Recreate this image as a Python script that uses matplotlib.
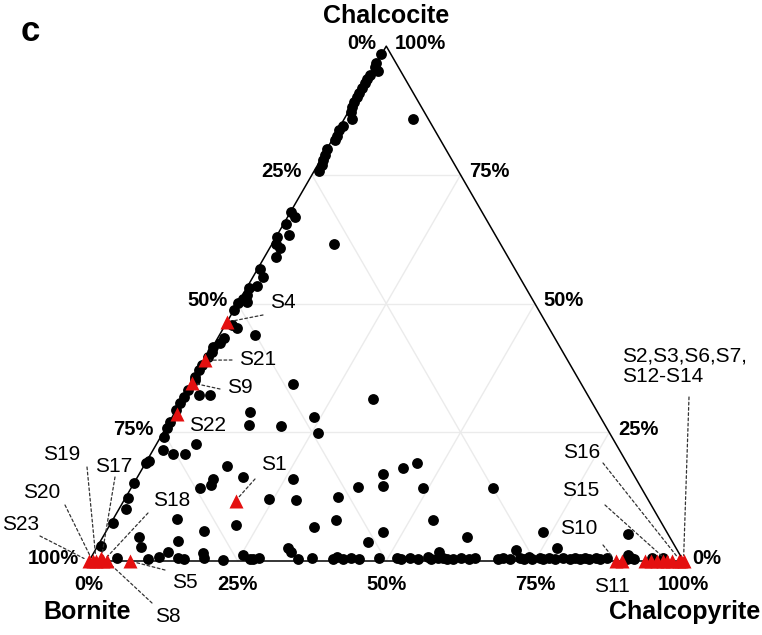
import numpy as np
import matplotlib

matplotlib.use("Agg")
import matplotlib.pyplot as plt  # noqa: E402

plt.rcParams["font.family"] = ["Liberation Sans", "DejaVu Sans"]

# compositions in %; bornite = 100 - chalcopyrite - chalcocite
# black dots: (chalcopyrite %, chalcocite %)
edge_pts = [
    (0, 98.4), (0, 96.7), (0.2, 95.9), (1.1, 95.1), (0.1, 94.4), (0, 93.6), (0, 92.8),
    (0, 91.8), (0, 90.9), (0, 90.1), (0, 89.1), (0.2, 88.2), (0.5, 87.2), (1.4, 85.8),
    (0.5, 84.5), (0.2, 83.7), (0.5, 82.5), (0.6, 81.7), (0, 80.0), (0.3, 78.8),
    (0.4, 77.9), (0.8, 76.9), (0.9, 75.7),
    (0, 67.8), (1.3, 66.8), (0.5, 65.4), (2.0, 63.3), (0.2, 62.9), (0.7, 61.6),
    (1.8, 60.8), (2.0, 59.0), (0.4, 56.7), (1.7, 55.1), (1.6, 53.4), (0.4, 53.0),
    (0.8, 51.7), (0.5, 50.9), (0, 50.1), (1.5, 50.3), (0, 48.7),
    (1.2, 45.8), (2.3, 45.2), (1.0, 43.3), (0.9, 42.3), (0.1, 41.6), (0.4, 40.6),
    (0.2, 39.6), (0, 38.1), (0, 37.1), (0, 35.7), (0.2, 35.1), (0, 33.2), (0, 31.8),
    (0, 30.7), (0, 29.3), (0.1, 27.0), (0.2, 25.8), (0.5, 24.1),
    (0.4, 19.4), (0.1, 19.0), (0, 15.1), (0.5, 12.2), (1.2, 10.1), (0.3, 7.4), (0.5, 2.9),
]
inner_pts = [
    (11.6, 85.8), (10.4, 61.6), (6.0, 43.9), (17.1, 34.4), (32.1, 31.5), (2.4, 32.2),
    (4.3, 32.2), (12.6, 28.9), (13.7, 26.4), (19.2, 26.2), (23.9, 28.0), (26.1, 24.9),
    (6.7, 22.7), (1.7, 21.6), (3.7, 20.8), (5.8, 20.8), (14.0, 18.4), (17.7, 16.3),
    (11.6, 14.2), (13.1, 14.8), (12.9, 15.9), (24.3, 12.0), (26.3, 15.9), (28.9, 11.8),
    (35.7, 12.4), (38.1, 14.4), (41.0, 16.9), (42.2, 14.6), (43.7, 18.1), (45.7, 19.0),
    (49.0, 14.2), (60.9, 14.2), (10.7, 8.2), (16.5, 5.8), (21.2, 7.0), (13.1, 3.9),
    (6.1, 4.7), (7.4, 2.7), (12.4, 1.7), (18.4, 1.6), (25.3, 1.2), (34.6, 6.6),
    (37.6, 8.0), (53.9, 8.0), (46.7, 5.6), (45.0, 3.7), (32.2, 2.5), (33.1, 1.7),
    (61.3, 4.7), (73.5, 5.6), (77.5, 2.5), (70.8, 2.1), (88.0, 5.2), (58.0, 1.7),
    (90.1, 1.2),
]
base_cpy = [
    4.4, 9.8, 11.4, 14.8, 15.8, 19.0, 22.4, 26.8, 27.4, 28.3, 35.0, 37.2, 40.9, 41.4,
    42.6, 43.9, 45.3, 48.4, 51.6, 52.4, 53.7, 55.1, 56.6, 57.4, 58.5, 59.3, 60.0, 61.0,
    62.2, 63.8, 64.7, 68.6, 69.4, 70.6, 72.3, 73.0, 73.6, 74.3, 75.6, 76.3, 77.0, 78.2,
    79.5, 80.7, 81.5, 82.4, 83.2, 84.0, 84.9, 85.7, 86.9, 90.3, 90.8, 91.5, 94.5, 96.2,
]
base_cc = [
    0.6, 0.4, 0.7, 0.5, 0.3, 0.6, 0.2, 0.4, 0.3, 0.5, 0.3, 0.6, 0.4, 0.7,
    0.3, 0.5, 0.4, 0.6, 0.5, 0.3, 0.6, 0.4, 0.7, 0.3, 0.5, 0.6, 0.4, 0.3,
    0.6, 0.4, 0.5, 0.3, 0.6, 0.4, 0.5, 0.3, 0.7, 0.4, 0.5, 0.3, 0.6, 0.4,
    0.5, 0.3, 0.6, 0.4, 0.5, 0.3, 0.6, 0.4, 0.5, 0.3, 0.6, 0.4, 0.5, 0.6,
]

# red triangles: samples
tri_names = ["S1", "S4", "S21", "S9", "S22", "S23", "S20", "S19", "S17", "S18", "S8",
             "S5", "S10", "S11", "S15", "S16", "S2", "S3", "S6", "S7", "S12", "S13", "S14"]
tri_cpy = [18.8, 0, 0, 0, 0.5, 0, 0.6, 1.2, 1.8, 2.4, 3.0,
           6.9, 88.6, 89.7, 97.3, 99.5, 93.5, 94.5, 95.6, 96.6, 98.1, 99.2, 100]
tri_cc = [11.7, 46.4, 39.0, 34.6, 28.5, 0, 0, 0, 0.6, 0, 0,
          0, 0, 0, 0, 0, 0, 0, 0, 0, 0, 0, 0]

ticks = [0, 25, 50, 75, 100]

# layout: label centre and leader start, in image pixels
label_pos = {
    "S4": ((283, 303), (263, 315)), "S21": ((258, 360), (232, 360)),
    "S9": ((240, 388), (220, 389)), "S22": ((208, 426), None),
    "S1": ((274, 465), (255, 479)), "S18": ((172, 500), (148, 513)),
    "S17": ((114, 467), (115, 477)), "S19": ((62, 455), (87, 467)),
    "S20": ((42, 492), (65, 505)), "S23": ((21, 524), (40, 536)),
    "S5": ((185, 582), (165, 570)), "S8": ((168, 616), (152, 603)),
    "S10": ((579, 528), (603, 545)), "S11": ((612, 586), None),
    "S15": ((581, 490), (605, 505)), "S16": ((582, 452), (603, 463)),
}

H = np.sqrt(3) / 2
W_PX, H_PX = 762, 635
X0, Y0, S = 89.0, 561.0, 594.5  # Bornite corner in pixels, pixels per side


def tern(cpy, cc):
    cpy = np.asarray(cpy, float) / 100
    cc = np.asarray(cc, float) / 100
    return cpy + cc / 2, cc * H


def px(p):
    return (p[0] - X0) / S, (Y0 - p[1]) / S


fig = plt.figure(figsize=(7.62, 6.35), dpi=100)
ax = fig.add_axes([0, 0, 1, 1])
ax.set_xlim(-X0 / S, (W_PX - X0) / S)
ax.set_ylim(-(H_PX - Y0) / S, Y0 / S)
ax.axis("off")

# grid
for f in (25, 50, 75):
    for a, b in [((0, f), (100 - f, f)), ((f, 0), (f, 100 - f)), ((100 - f, 0), (0, 100 - f))]:
        gx, gy = tern([a[0], b[0]], [a[1], b[1]])
        ax.plot(gx, gy, color="#ebebeb", lw=1.0, zorder=1)

# outline
ox, oy = tern([0, 100, 0, 0], [0, 0, 100, 0])
ax.plot(ox, oy, color="black", lw=1.1, zorder=2)

# tick labels
tk = dict(fontsize=14.5, fontweight="bold", textcoords="offset pixels")
for v in ticks:
    ax.annotate(f"{v}%", tern(0, 100 - v), xytext=(-10, 3), ha="right", va="center", **tk)
    ax.annotate(f"{v}%", tern(100 - v, v), xytext=(9, 3), ha="left", va="center", **tk)
    ax.annotate(f"{v}%", tern(v, 0), xytext=(0, -23), ha="center", va="center", **tk)

vk = dict(fontsize=18, fontweight="bold", textcoords="offset pixels", ha="center", va="center")
ax.annotate("Chalcocite", tern(0, 100), xytext=(0, 30), **vk)
ax.annotate("Bornite", tern(0, 0), xytext=(-2, -51), **vk)
ax.annotate("Chalcopyrite", tern(100, 0), xytext=(1.5, -51), **vk)
ax.text(*px((30, 32)), "c", fontsize=25, fontweight="bold", ha="center", va="center")

# data
pts = edge_pts + inner_pts + list(zip(base_cpy, base_cc))
dx, dy = tern([p[0] for p in pts], [p[1] for p in pts])
ax.plot(dx, dy, "o", color="black", ms=7.8, mec="none", zorder=3)

tx, ty = tern(tri_cpy, tri_cc)
ax.plot(tx, ty, "^", color="#e41010", ms=10.5, mec="none", zorder=5)

# labels and leaders
dash = dict(arrowstyle="-", ls=(0, (2.2, 2.0)), color="#333333", lw=0.9, shrinkA=0, shrinkB=4)
for name, xx, yy in zip(tri_names, tx, ty):
    if name not in label_pos:
        continue
    txt, start = label_pos[name]
    ax.text(*px(txt), name, fontsize=15, ha="center", va="center")
    if start is not None:
        ax.annotate("", xy=(xx, yy), xytext=px(start), arrowprops=dash, zorder=4)

i14 = tri_names.index("S14")
ax.text(*px((622, 366)), "S2,S3,S6,S7,\nS12-S14", fontsize=15, ha="left", va="center",
        linespacing=1.1)
ax.annotate("", xy=(tx[i14], ty[i14]), xytext=px((689, 397)), arrowprops=dash, zorder=4)

fig.savefig("out.png", dpi=100)
